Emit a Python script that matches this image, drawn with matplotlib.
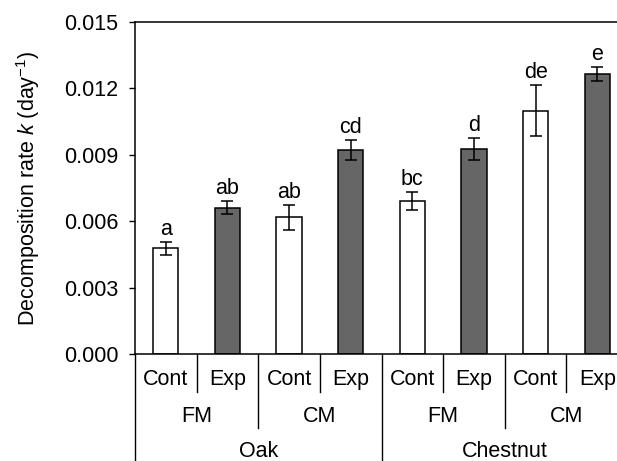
import numpy as np
import matplotlib
matplotlib.use("Agg")
import matplotlib.pyplot as plt
import matplotlib.transforms as mtransforms

plt.rcParams.update({
    "font.family": ["Liberation Sans", "DejaVu Sans"],
    "font.size": 15.5,
    "mathtext.fontset": "custom",
    "mathtext.rm": "Liberation Sans",
    "mathtext.it": "Liberation Sans:italic",
})

# data
treatments = ["Cont", "Exp", "Cont", "Exp", "Cont", "Exp", "Cont", "Exp"]
mulch = ["FM", "CM", "FM", "CM"]
species = ["Oak", "Chestnut"]
rate = [0.00478, 0.00661, 0.00617, 0.00922, 0.00690, 0.00926, 0.01099, 0.01264]
err = [0.00029, 0.00030, 0.00057, 0.00044, 0.00040, 0.00050, 0.00116, 0.00031]
letters = ["a", "ab", "ab", "cd", "bc", "d", "de", "e"]

fig = plt.figure(figsize=(6.17, 4.61), dpi=100)
ax = fig.add_axes([0.2188, 0.2321, 0.7992, 0.7202])

x = np.arange(len(rate))
colors = ["white" if t == "Cont" else "#666666" for t in treatments]
ax.bar(x, rate, width=0.41, color=colors, edgecolor="black", linewidth=1.1, zorder=2)
ax.errorbar(x, rate, yerr=err, fmt="none", ecolor="black", elinewidth=1.1,
            capsize=4, capthick=1.1, zorder=3)

for xi, r, e, lab in zip(x, rate, err, letters):
    ax.annotate(lab, (xi, r + e), xytext=(0, 1.5), textcoords="offset points",
                ha="center", va="bottom")

ax.set_xlim(-0.5, 7.5)
ax.set_ylim(0, 0.015)
ax.set_yticks(np.arange(0, 0.0151, 0.003))
ax.set_yticklabels([f"{v:.3f}" for v in np.arange(0, 0.0151, 0.003)])
ax.tick_params(axis="y", direction="out", length=4, width=1, pad=8)
ax.set_xticks([])
ax.set_ylabel("Decomposition rate $\\it{k}$ (day$^{-1}$)", labelpad=16)
ax.spines["right"].set_visible(False)
for s in ax.spines.values():
    s.set_linewidth(1.1)

# hierarchical category axis
trans = mtransforms.blended_transform_factory(ax.transData, ax.transAxes)
for xi, t in zip(x, treatments):
    ax.text(xi, -0.078, t, transform=trans, ha="center", va="center")
for i, m in enumerate(mulch):
    ax.text(2 * i + 0.5, -0.189, m, transform=trans, ha="center", va="center")
for i, sp in enumerate(species):
    ax.text(4 * i + 1.5, -0.294, sp, transform=trans, ha="center", va="center")

line_kw = dict(transform=trans, color="black", linewidth=1.0, clip_on=False)
for xs in [0.5, 2.5, 4.5, 6.5]:
    ax.plot([xs, xs], [0, -0.114], **line_kw)
for xs in [1.5, 5.5]:
    ax.plot([xs, xs], [0, -0.223], **line_kw)
for xs in [-0.5, 3.5]:
    ax.plot([xs, xs], [0, -0.36], **line_kw)

fig.savefig("out.png", dpi=100)
